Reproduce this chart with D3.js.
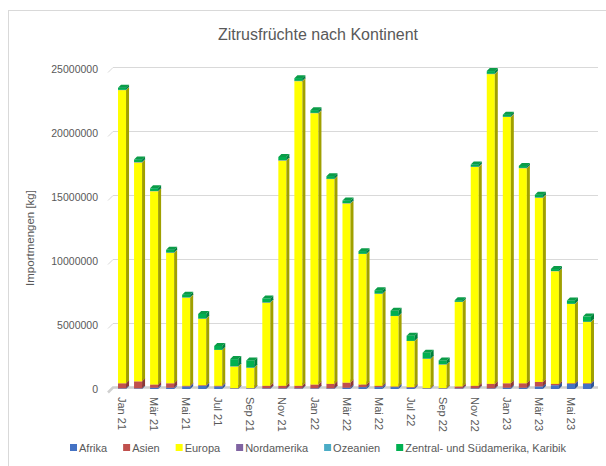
<!DOCTYPE html>
<html>
<head>
<meta charset="utf-8">
<script src="https://cdn.jsdelivr.net/npm/d3@7"></script>
<style>
  body { margin: 0; background: #fff; }
  svg text { font-family: "Liberation Sans", Arial, sans-serif; }
</style>
</head>
<body>
<div id="chart"></div>
<script>
// Importmengen Zitrusfrüchte je Monat [kg]
const months = ['Jan 21', 'Feb 21', 'Mär 21', 'Apr 21', 'Mai 21', 'Jun 21', 'Jul 21', 'Aug 21', 'Sep 21', 'Okt 21', 'Nov 21', 'Dez 21',
    'Jan 22', 'Feb 22', 'Mär 22', 'Apr 22', 'Mai 22', 'Jun 22', 'Jul 22', 'Aug 22', 'Sep 22', 'Okt 22', 'Nov 22', 'Dez 22',
    'Jan 23', 'Feb 23', 'Mär 23', 'Apr 23', 'Mai 23', 'Jun 23'];
const tickLabels = ['Jan 21', 'Mär 21', 'Mai 21', 'Jul 21', 'Sep 21', 'Nov 21', 'Jan 22', 'Mär 22', 'Mai 22', 'Jul 22', 'Sep 22', 'Nov 22', 'Jan 23', 'Mär 23', 'Mai 23'];
const yTicks = [0, 5000000, 10000000, 15000000, 20000000, 25000000];

const afrika = [50000, 50000, 100000, 100000, 200000, 250000, 200000, 50000, 50000, 50000, 50000, 50000,
    50000, 50000, 100000, 150000, 150000, 150000, 100000, 50000, 50000, 50000, 50000, 50000,
    100000, 100000, 200000, 300000, 400000, 400000];
const asien = [400000, 550000, 250000, 350000, 50000, 50000, 50000, 20000, 20000, 200000, 200000, 200000,
    300000, 350000, 400000, 200000, 100000, 50000, 50000, 20000, 20000, 150000, 200000, 350000,
    350000, 350000, 350000, 100000, 50000, 50000];
const europa = [22900000, 17100000, 15100000, 10200000, 6900000, 5200000, 2800000, 1700000, 1600000, 6500000, 17600000, 23800000,
    21200000, 16000000, 14000000, 10200000, 7200000, 5500000, 3600000, 2300000, 1850000, 6600000, 17100000, 24200000,
    20800000, 16800000, 14400000, 8800000, 6200000, 4800000];
const nordamerika = [20000, 20000, 15000, 15000, 10000, 10000, 10000, 10000, 10000, 15000, 20000, 25000,
    20000, 20000, 15000, 15000, 10000, 10000, 10000, 10000, 10000, 15000, 20000, 25000,
    20000, 20000, 15000, 15000, 10000, 10000];
const ozeanien = [10000, 10000, 10000, 5000, 5000, 5000, 5000, 5000, 5000, 10000, 10000, 10000,
    10000, 10000, 10000, 5000, 5000, 5000, 5000, 5000, 5000, 10000, 10000, 10000,
    10000, 10000, 10000, 5000, 5000, 5000];
const zentral = [150000, 200000, 200000, 200000, 200000, 350000, 300000, 550000, 550000, 300000, 250000, 200000,
    200000, 200000, 200000, 200000, 250000, 400000, 400000, 450000, 300000, 100000, 150000, 200000,
    150000, 150000, 200000, 150000, 250000, 400000];

const seriesNames = ['Afrika', 'Asien', 'Europa', 'Nordamerika', 'Ozeanien', 'Zentral- und Südamerika, Karibik'];
const seriesValues = [afrika, asien, europa, nordamerika, ozeanien, zentral];
const frontColors = ['#4472C4', '#C0504D', '#FFFF00', '#8064A2', '#4BACC6', '#00B050'];
const sideColors = ['#2F5597', '#8C3836', '#A0A000', '#5C4776', '#31849B', '#00803A'];
const topColors = ['#6A8FD0', '#D07370', '#FFFF70', '#9A83B8', '#72C0D4', '#0A9C48'];

const width = 606, height = 466;
const dx = 3, dy = 3; // Tiefe des 3D-Effekts

const svg = d3.select('#chart')
    .append('svg')
    .attr('width', width)
    .attr('height', height);

// Rahmen des Diagramms
svg.append('rect')
    .attr('x', 8.5)
    .attr('y', 10.5)
    .attr('width', 640)
    .attr('height', 480)
    .attr('fill', '#fff')
    .attr('stroke', '#d9d9d9');

// Titel
svg.append('text')
    .attr('x', 318)
    .attr('y', 40)
    .attr('text-anchor', 'middle')
    .attr('font-size', '16px')
    .attr('fill', '#595959')
    .text('Zitrusfrüchte nach Kontinent');

const x = d3.scaleBand()
    .domain(months)
    .range([110, 599])
    .paddingInner(0.5)
    .paddingOuter(0.5);

const y = d3.scaleLinear()
    .domain([0, 25000000])
    .range([389, 69]);

// Gitterlinien (Rückwand) mit kurzer Schräge links
const grid = svg.append('g').attr('class', 'grid');
yTicks.forEach(v => {
    const gy = y(v) - 1.5;
    grid.append('path')
        .attr('d', `M${108},${gy + 5}L${113},${gy}L${598},${gy}`)
        .attr('fill', 'none')
        .attr('stroke', v === 0 ? '#d0d0d0' : '#d9d9d9')
        .attr('stroke-width', v === 0 ? 2.5 : 1);
});

// Y-Achse
const yAxis = svg.append('g')
    .attr('transform', 'translate(98,0)')
    .call(d3.axisLeft(y).tickValues(yTicks).tickSize(0).tickPadding(0).tickFormat(d3.format('d')));
yAxis.select('.domain').remove();
yAxis.selectAll('text')
    .attr('font-size', '10.5px')
    .attr('fill', '#595959')
    .attr('font-family', '"Liberation Sans", Arial, sans-serif');

svg.append('text')
    .attr('transform', 'translate(34,238) rotate(-90)')
    .attr('text-anchor', 'middle')
    .attr('font-size', '11.5px')
    .attr('fill', '#595959')
    .text('Importmengen [kg]');

// X-Achse (nur jeder zweite Monat beschriftet)
const xAxis = svg.append('g')
    .attr('transform', 'translate(0,397)')
    .call(d3.axisBottom(x).tickValues(tickLabels).tickSize(0).tickPadding(0));
xAxis.select('.domain').remove();
xAxis.selectAll('text')
    .attr('font-size', '11px')
    .attr('fill', '#595959')
    .attr('font-family', '"Liberation Sans", Arial, sans-serif')
    .attr('text-anchor', 'start')
    .attr('dy', '0.35em')
    .attr('transform', 'rotate(90)')
    .attr('x', 0)
    .attr('y', 0);

// Gestapelte Daten
const rows = months.map((m, i) => {
    const row = { month: m };
    seriesNames.forEach((s, k) => { row[s] = seriesValues[k][i]; });
    return row;
});
const stacked = d3.stack().keys(seriesNames)(rows);

const bw = x.bandwidth();
const bars = svg.append('g').attr('class', 'bars');

months.forEach((m, i) => {
    const bar = bars.append('g').attr('class', 'bar');
    stacked.forEach((layer, k) => {
        const d = layer[i];
        const x0 = x(m);
        const y0 = y(d[0]);
        const y1 = y(d[1]);
        // Vorderseite
        bar.append('rect')
            .attr('x', x0)
            .attr('y', y1)
            .attr('width', bw)
            .attr('height', Math.max(0, y0 - y1))
            .attr('fill', frontColors[k]);
        // rechte Seite
        bar.append('path')
            .attr('d', `M${x0 + bw},${y1}L${x0 + bw + dx},${y1 - dy}L${x0 + bw + dx},${y0 - dy}L${x0 + bw},${y0}Z`)
            .attr('fill', sideColors[k]);
        // Deckfläche
        bar.append('path')
            .attr('d', `M${x0},${y1}L${x0 + dx},${y1 - dy}L${x0 + bw + dx},${y1 - dy}L${x0 + bw},${y1}Z`)
            .attr('fill', topColors[k]);
    });
});

// Legende
const legend = svg.append('g').attr('class', 'legend');
let lx = 0;
seriesNames.forEach((s, k) => {
    const item = legend.append('g').attr('transform', `translate(${lx},0)`);
    item.append('rect')
        .attr('x', 0)
        .attr('y', -4)
        .attr('width', 7)
        .attr('height', 7)
        .attr('fill', frontColors[k]);
    const t = item.append('text')
        .attr('x', 9)
        .attr('y', 0)
        .attr('dy', '0.35em')
        .attr('font-size', '11px')
        .attr('fill', '#595959')
        .text(s);
    lx += 9 + t.node().getComputedTextLength() + 16;
});
const legendWidth = lx - 16;
legend.attr('transform', `translate(${318 - legendWidth / 2},448)`);
</script>
</body>
</html>
